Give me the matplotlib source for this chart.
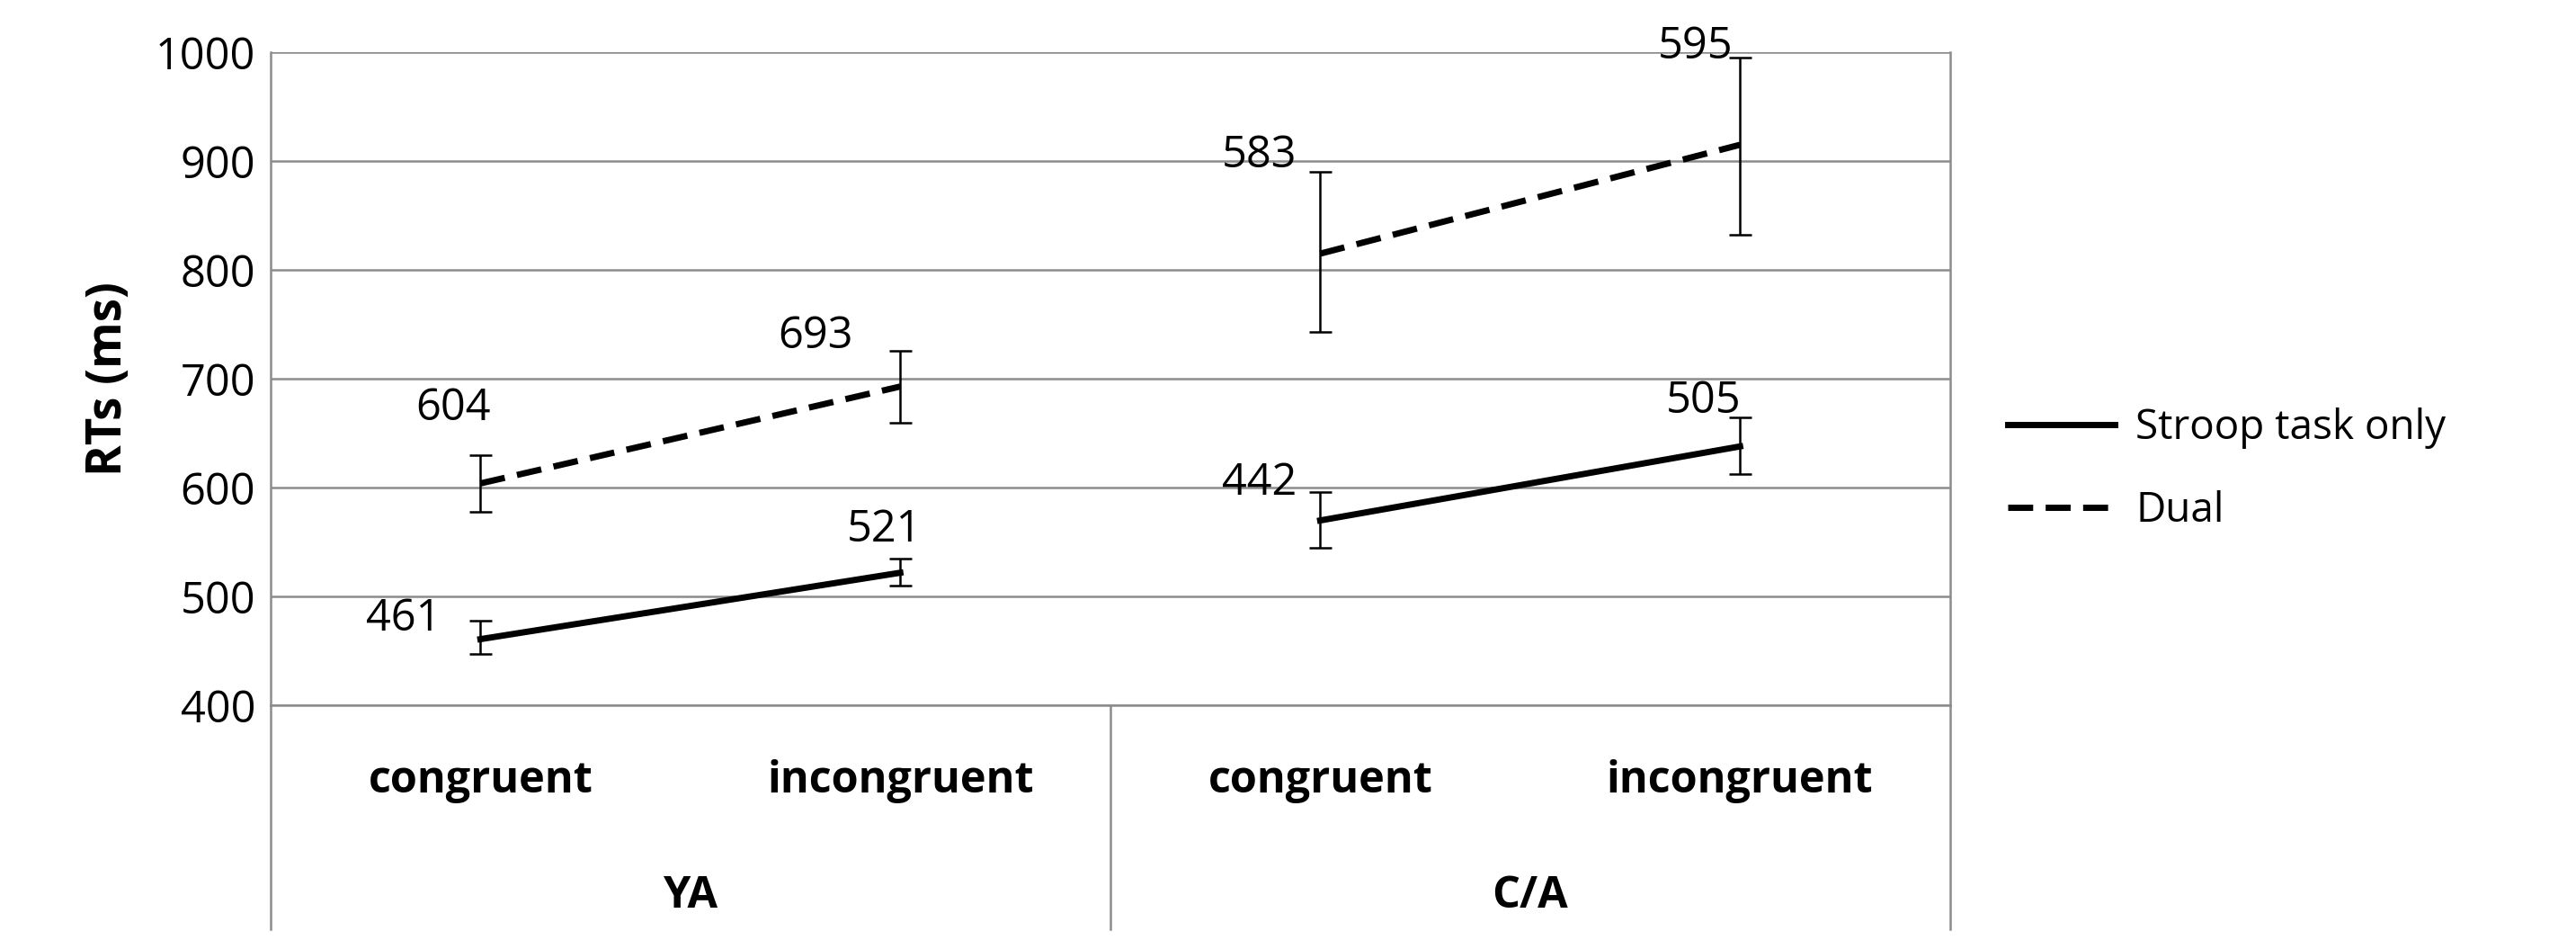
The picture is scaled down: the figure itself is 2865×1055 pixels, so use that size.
import matplotlib
matplotlib.use("Agg")
import matplotlib.pyplot as plt
from matplotlib.lines import Line2D

plt.rcParams["font.family"] = ["Open Sans", "DejaVu Sans"]

conditions = ["congruent", "incongruent", "congruent", "incongruent"]
groups = ["YA", "C/A"]
stroop = [461, 522, 570, 638]
stroop_lo = [447, 510, 545, 613]
stroop_hi = [478, 535, 596, 665]
dual = [604, 693, 815, 915]
dual_lo = [578, 660, 743, 832]
dual_hi = [630, 726, 890, 995]
stroop_labels = ["461", "521", "442", "505"]
dual_labels = ["604", "693", "583", "595"]
stroop_offsets = [(-62, 16), (-13, 34), (-49, 30), (-29, 36)]
dual_offsets = [(-22, 60), (-68, 40), (-49, 78), (-36, 78)]

fig = plt.figure(figsize=(28.65, 10.55), dpi=100)
ax = fig.add_axes([0.105, 0.2565, 0.652, 0.6885])

x = [0, 1, 2, 3]
for xs, ys, lo, hi, ls in [
    ([0, 1], stroop[:2], stroop_lo[:2], stroop_hi[:2], "-"),
    ([2, 3], stroop[2:], stroop_lo[2:], stroop_hi[2:], "-"),
    ([0, 1], dual[:2], dual_lo[:2], dual_hi[:2], "--"),
    ([2, 3], dual[2:], dual_lo[2:], dual_hi[2:], "--"),
]:
    err = [[v - l for v, l in zip(ys, lo)], [h - v for v, h in zip(ys, hi)]]
    ax.errorbar(xs, ys, yerr=err, color="black", lw=5, ls=ls, elinewidth=1.8,
                capsize=9, capthick=1.8, dashes=(4, 2) if ls == "--" else None)

for vals, labs, offs in [(stroop, stroop_labels, stroop_offsets), (dual, dual_labels, dual_offsets)]:
    for xi, v, lab, off in zip(x, vals, labs, offs):
        ax.annotate(lab, (xi, v), xytext=off, textcoords="offset points",
                    ha="center", va="center", fontsize=35)

ax.set_xlim(-0.5, 3.5)
ax.set_ylim(400, 1000)
ax.set_yticks(range(400, 1001, 100))
ax.tick_params(axis="y", labelsize=35, length=0, pad=12)
ax.set_xticks([])
ax.yaxis.grid(True, color="#8c8c8c", lw=1.8)
ax.set_axisbelow(True)
ax.spines["top"].set_visible(False)
for s in ["left", "right", "bottom"]:
    ax.spines[s].set_color("#8c8c8c")
    ax.spines[s].set_linewidth(1.8)
ax.set_ylabel("RTs (ms)", fontsize=38, fontweight="bold", labelpad=18)

for xf in [0, 0.5, 1]:
    ax.plot([xf, xf], [0, -0.3426], transform=ax.transAxes, color="#8c8c8c",
            lw=1.8, clip_on=False)
tr = ax.get_xaxis_transform()
for xi, c in zip(x, conditions):
    ax.text(xi, -0.116, c, transform=tr, ha="center", va="center",
            fontsize=35, fontweight="bold")
for xi, g in zip([0.5, 2.5], groups):
    ax.text(xi, -0.292, g, transform=tr, ha="center", va="center",
            fontsize=35, fontweight="bold")

handles = [Line2D([], [], color="black", lw=5),
           Line2D([], [], color="black", lw=5, ls="--", dashes=(4, 2))]
fig.legend(handles, ["Stroop task only", "Dual"], loc="center left",
           bbox_to_anchor=(0.765, 0.505), frameon=False,
           fontsize=33, handlelength=2.6, labelspacing=1.0, handletextpad=0.5)

fig.savefig("out.png", dpi=100)
